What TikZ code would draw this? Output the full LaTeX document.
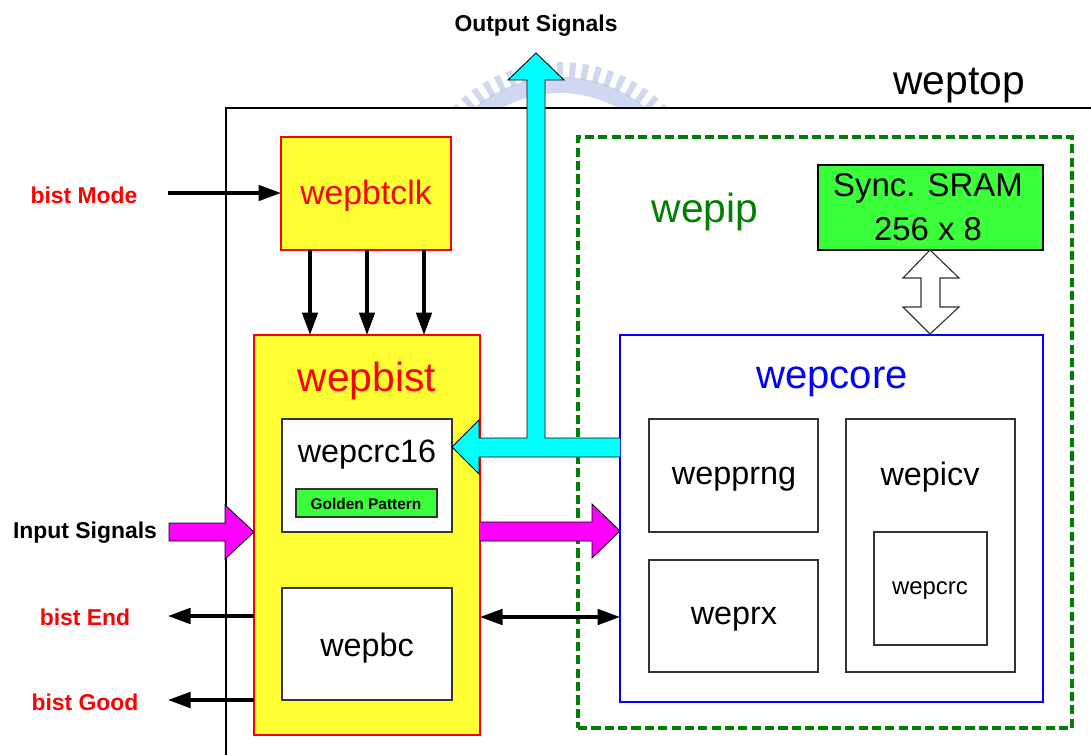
\documentclass[tikz,border=0pt]{standalone}
\usepackage{fontspec}
\setmainfont{Liberation Sans}
\usetikzlibrary{arrows.meta,fit}
\definecolor{byellow}{RGB}{255,255,51}
\definecolor{bgreen}{RGB}{60,255,60}
\definecolor{dgreen}{RGB}{0,128,0}
\definecolor{wmblue}{RGB}{168,182,230}
\definecolor{fcyan}{RGB}{0,255,255}
\definecolor{fmag}{RGB}{255,0,255}
\begin{document}
\begin{tikzpicture}[x=0.025cm,y=-0.025cm,
  txt/.style={inner sep=0pt, outer sep=0pt},
  fitbox/.style={inner sep=0pt, outer sep=0pt},
  redbox/.style={fitbox, draw=red, line width=2.1pt, fill=byellow},
  wbox/.style={fitbox, draw=black!80, line width=0.9pt, fill=white},
  gbox/.style={fitbox, draw=black!80, line width=0.9pt, fill=bgreen},
  side/.style={txt, font=\fontsize{16.3}{19}\selectfont\bfseries},
  blabel/.style={txt, font=\fontsize{23}{27}\selectfont},
  title/.style={txt, font=\fontsize{29}{34}\selectfont},
  arr/.style={line width=2.4pt, -{Triangle[length=16pt,width=11pt]}},
  darr/.style={line width=2.4pt, {Triangle[length=16pt,width=11pt]}-{Triangle[length=16pt,width=11pt]}},
  fatline/.style={draw=black, line width=0.6pt, line join=miter},
]
\useasboundingbox (0,0) rectangle (1091,755);

% faint watermark
\begin{scope}
  \clip (430,40) rectangle (690,107);
  \fill[wmblue, opacity=0.55, even odd rule] (560,212) circle[radius=135] (560,212) circle[radius=119];
  \foreach \a in {-150,-145,...,-30}{
    \fill[wmblue, opacity=0.55] ([shift={(560,212)}]\a-1.2:134) -- ([shift={(560,212)}]\a-1.2:150)
      -- ([shift={(560,212)}]\a+1.2:150) -- ([shift={(560,212)}]\a+1.2:134) -- cycle;
  }
\end{scope}

% weptop frame
\draw[line width=1.3pt] (1091,108) -- (226,108) -- (226,755);
\node[title] (weptop) at (959,86) {weptop};

% wepip dashed region
\node[fitbox, draw=dgreen, line width=2.4pt, dash pattern=on 6.5pt off 3pt, fit={(578,137) (1072,728)}] (wepip) {};
\node[title, text=dgreen] (wepiplbl) at (705,212) {wepip};

% SRAM
\node[gbox, line width=1.2pt, draw=black, fit={(818,165) (1043,250)}] (sram) {};
\node[txt, font=\fontsize{23.4}{31}\selectfont, align=center] (sramlbl) at (928,207) {Sync. SRAM\\256 x 8};

% wepcore
\node[fitbox, draw=blue, line width=1.4pt, fill=white, fit={(620,335) (1043,702)}] (wepcore) {};
\node[txt, font=\fontsize{28.5}{34}\selectfont, text=blue] (wepcorelbl) at (832,382) {wepcore};
\node[wbox, fit={(649,419) (818,532)}] (wepprng) {};
\node[blabel] (wepprnglbl) at (734,479) {wepprng};
\node[wbox, fit={(649,560) (818,672)}] (weprx) {};
\node[blabel] (weprxlbl) at (734,619) {weprx};
\node[wbox, fit={(846,419) (1015,672)}] (wepicv) {};
\node[blabel] (wepicvlbl) at (930,477) {wepicv};
\node[wbox, fit={(874,532) (987,645)}] (wepcrc) {};
\node[txt, font=\fontsize{17}{20}\selectfont] (wepcrclbl) at (930,591) {wepcrc};

% white double arrow between SRAM and wepcore
\draw[fill=white, draw=black!80, line width=0.8pt, line join=miter]
  (930,250) -- (959,278) -- (940,278) -- (940,307) -- (959,307) -- (930,334)
  -- (903,307) -- (921,307) -- (921,278) -- (903,278) -- cycle;

% wepbtclk
\node[redbox, fit={(281,137) (451,250)}] (wepbtclk) {};
\node[txt, font=\fontsize{24}{28}\selectfont, text=red] (wepbtclklbl) at (366,196) {wepbtclk};

% wepbist
\node[redbox, fit={(254,335) (480,735)}] (wepbist) {};
\node[title, text=red] (wepbistlbl) at (367,381) {wepbist};
\node[wbox, fit={(282,419) (452,532)}] (wepcrc16) {};
\node[blabel] (wepcrc16lbl) at (367,455) {wepcrc16};
\node[gbox, line width=0.8pt, fit={(296,489) (437,517)}] (golden) {};
\node[txt, font=\fontsize{11}{13}\selectfont\bfseries] (goldenlbl) at (366,504) {Golden Pattern};
\node[wbox, fit={(282,588) (452,700)}] (wepbc) {};
\node[blabel] (wepbclbl) at (367,648) {wepbc};

% side labels
\node[side] (outsig) at (536,26) {Output Signals};
\node[side, text=red] (bistmode) at (84,195) {bist Mode};
\node[side] (insig) at (85,533) {Input Signals};
\node[side, text=red] (bistend) at (85,617) {bist End};
\node[side, text=red] (bistgood) at (85,702) {bist Good};

% thin connectors
\coordinate (bm) at (168,193);
\draw[arr] (bm) -- (bm -| wepbtclk.west);
\coordinate (c1) at (310,300);
\coordinate (c2) at (367,300);
\coordinate (c3) at (424,300);
\foreach \c in {c1,c2,c3}{
  \draw[arr] (\c |- wepbtclk.south) -- (\c |- wepbist.north);
}
\coordinate (be) at (168,616);
\coordinate (bg) at (168,700);
\draw[arr] (be -| wepbist.west) -- (be);
\draw[arr] (bg -| wepbist.west) -- (bg);
\coordinate (bd) at (550,617);
\draw[darr] (bd -| wepbist.east) -- (bd -| wepcore.west);

% magenta input arrow
\draw[fatline, fill=fmag] (169,523) -- (225,523) -- (225,505) -- (254,532) -- (225,559) -- (225,541) -- (169,541) -- cycle;
% magenta wepbist -> wepcore
\fill[fmag] (480,522) -- (592,522) -- (592,504) -- (620,531) -- (592,558) -- (592,541) -- (480,541) -- cycle;
\draw[fatline] (480,522) -- (592,522) -- (592,504) -- (620,531) -- (592,558) -- (592,541) -- (480,541);

% cyan output / feedback arrow
\fill[fcyan] (620,438) -- (545,438) -- (545,80) -- (564,80) -- (536,53) -- (508,80) -- (527,80) -- (527,438)
  -- (479,438) -- (479,420) -- (452,447) -- (479,474) -- (479,457) -- (620,457) -- cycle;
\draw[fatline] (620,438) -- (545,438) -- (545,80) -- (564,80) -- (536,53) -- (508,80) -- (527,80) -- (527,438)
  -- (479,438) -- (479,420) -- (452,447) -- (479,474) -- (479,457) -- (620,457);
\end{tikzpicture}
\end{document}
